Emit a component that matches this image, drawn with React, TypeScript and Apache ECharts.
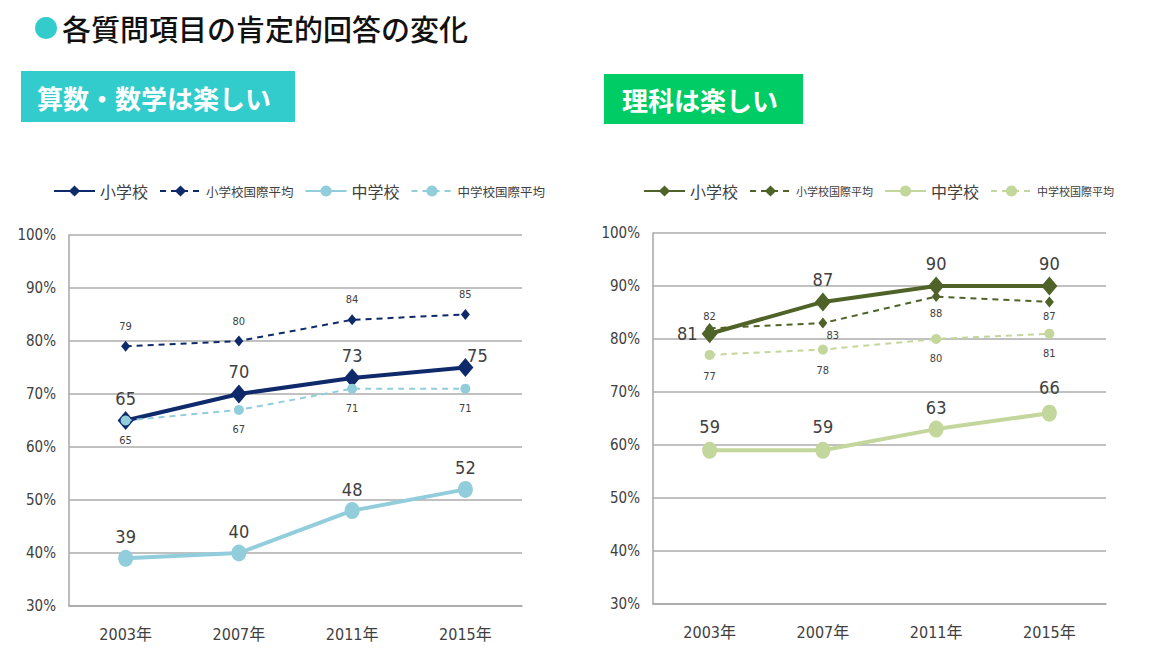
import React, { useEffect, useRef } from "react";
import * as echarts from "echarts";

const years = ["2003年", "2007年", "2011年", "2015年"];
const yTicks = { min: 30, max: 100, interval: 10 };

// 算数・数学は楽しい
const mathElem = [65, 70, 73, 75];
const mathElemIntl = [79, 80, 84, 85];
const mathJunior = [39, 40, 48, 52];
const mathJuniorIntl = [65, 67, 71, 71];

// 理科は楽しい
const sciElem = [81, 87, 90, 90];
const sciElemIntl = [82, 83, 88, 87];
const sciJunior = [59, 59, 63, 66];
const sciJuniorIntl = [77, 78, 80, 81];

const seriesNames = ["小学校", "小学校国際平均", "中学校", "中学校国際平均"];

const NUM_FONT = "'Liberation Sans Narrow', 'DejaVu Sans Condensed', 'Noto Sans CJK JP', sans-serif";
const CJK_FONT = "'Noto Sans CJK JP', sans-serif";
const TXT = "#404040";

type Pal = { dark: string; light: string };

function buildOption(
  pal: Pal,
  data: number[][],
  labelCfg: any[][],
  legendLeft: number,
  legendSmallSize: number,
  gridTop: number,
  graphic: any[]
) {
  const [elem, elemIntl, jun, junIntl] = data;
  const mk = (vals: number[], cfgs: any[]) =>
    vals.map((v, i) => ({ value: v, label: cfgs[i] || {} }));
  const bigLabel = { show: true, position: "top", distance: 4, fontSize: 18, color: TXT, fontFamily: NUM_FONT };
  const smallLabel = { show: true, fontSize: 11, color: TXT, fontFamily: NUM_FONT };
  return {
    animation: false,
    graphic,
    legend: {
      left: legendLeft,
      top: 183,
      padding: 0,
      itemWidth: 41,
      itemHeight: 14,
      itemGap: 11,
      textStyle: { color: TXT, fontFamily: CJK_FONT, fontSize: 16 },
      data: [
        { name: seriesNames[0], textStyle: { fontSize: 16 } },
        { name: seriesNames[1], textStyle: { fontSize: legendSmallSize } },
        { name: seriesNames[2], textStyle: { fontSize: 16 } },
        { name: seriesNames[3], textStyle: { fontSize: legendSmallSize } },
      ],
    },
    grid: { left: 69, top: gridTop, width: 453, height: 371 },
    xAxis: {
      type: "category",
      data: years,
      boundaryGap: true,
      axisTick: { show: false },
      axisLine: { lineStyle: { color: "#A6A6A6", width: 1.5 } },
      axisLabel: { color: TXT, fontSize: 16, fontFamily: NUM_FONT, margin: 20 },
    },
    yAxis: {
      type: "value",
      min: yTicks.min,
      max: yTicks.max,
      interval: yTicks.interval,
      axisLine: { show: true, lineStyle: { color: "#A6A6A6", width: 1.5 } },
      axisTick: { show: false },
      splitLine: { lineStyle: { color: "#ADADAD", width: 1.5 } },
      axisLabel: { color: TXT, fontSize: 15, fontFamily: NUM_FONT, margin: 13, formatter: "{value}%" },
    },
    series: [
      {
        name: seriesNames[0],
        type: "line",
        data: mk(elem, labelCfg[0]),
        symbol: "diamond",
        symbolSize: [16, 19],
        lineStyle: { color: pal.dark, width: 4 },
        itemStyle: { color: pal.dark },
        label: bigLabel,
        z: 3,
      },
      {
        name: seriesNames[1],
        type: "line",
        data: mk(elemIntl, labelCfg[1]),
        symbol: "diamond",
        symbolSize: [9, 11],
        lineStyle: { color: pal.dark, width: 2, type: [6, 5] },
        itemStyle: { color: pal.dark },
        label: { ...smallLabel, position: "top", distance: 9 },
        z: 2,
      },
      {
        name: seriesNames[2],
        type: "line",
        data: mk(jun, labelCfg[2]),
        symbol: "circle",
        symbolSize: [15, 17],
        lineStyle: { color: pal.light, width: 4 },
        itemStyle: { color: pal.light },
        label: bigLabel,
        z: 3,
      },
      {
        name: seriesNames[3],
        type: "line",
        data: mk(junIntl, labelCfg[3]),
        symbol: "circle",
        symbolSize: 10,
        lineStyle: { color: pal.light, width: 2, type: [6, 5] },
        itemStyle: { color: pal.light },
        label: { ...smallLabel, position: "bottom", distance: 9 },
        z: 4,
      },
    ],
  };
}

export default function App() {
  const leftRef = useRef<HTMLDivElement>(null);
  const rightRef = useRef<HTMLDivElement>(null);

  useEffect(() => {
    document.body.style.margin = "0";
    const left = echarts.init(leftRef.current!, undefined, { renderer: "svg" });
    const right = echarts.init(rightRef.current!, undefined, { renderer: "svg" });

    const leftGraphic = [
      { type: "circle", shape: { cx: 46, cy: 28, r: 11 }, style: { fill: "#33CCCC" } },
      {
        type: "text",
        x: 62,
        y: 28,
        style: {
          text: "各質問項目の肯定的回答の変化",
          fill: "#111111",
          fontSize: 29,
          fontWeight: 500,
          fontFamily: CJK_FONT,
          verticalAlign: "middle",
          align: "left",
        },
      },
      { type: "rect", shape: { x: 21, y: 71, width: 274, height: 51 }, style: { fill: "#33CCCC" } },
      {
        type: "text",
        x: 37,
        y: 97,
        style: {
          text: "算数・数学は楽しい",
          fill: "#ffffff",
          fontSize: 26,
          fontWeight: "bold",
          fontFamily: CJK_FONT,
          verticalAlign: "middle",
          align: "left",
        },
      },
    ];
    const rightGraphic = [
      { type: "rect", shape: { x: 20, y: 74, width: 199, height: 50 }, style: { fill: "#00CC66" } },
      {
        type: "text",
        x: 38,
        y: 99,
        style: {
          text: "理科は楽しい",
          fill: "#ffffff",
          fontSize: 26,
          fontWeight: "bold",
          fontFamily: CJK_FONT,
          verticalAlign: "middle",
          align: "left",
        },
      },
    ];

    const leftLabels = [
      [{}, {}, {}, { offset: [12, 10] }],
      [],
      [],
      [],
    ];
    const rightLabels = [
      [{ position: "left", distance: 4 }, {}, {}, {}],
      [{ position: "top", distance: 1 }, { position: "bottom", distance: 1, offset: [10, 0] }, { position: "bottom", distance: 6 }, { position: "bottom", distance: 4 }],
      [{ distance: 6 }, { distance: 6 }, {}, { distance: 8 }],
      [{ distance: 11 }, { distance: 10 }, {}, {}],
    ];

    left.setOption(
      buildOption(
        { dark: "#0E2A6A", light: "#92CDDC" },
        [mathElem, mathElemIntl, mathJunior, mathJuniorIntl],
        leftLabels,
        53,
        12.5,
        235,
        leftGraphic
      ) as any
    );
    right.setOption(
      buildOption(
        { dark: "#4F6228", light: "#C3D69B" },
        [sciElem, sciElemIntl, sciJunior, sciJuniorIntl],
        rightLabels,
        59,
        11,
        233,
        rightGraphic
      ) as any
    );
    return () => {
      left.dispose();
      right.dispose();
    };
  }, []);

  return (
    <div style={{ position: "relative", width: 1168, height: 657, background: "#fff" }}>
      <div ref={leftRef} style={{ position: "absolute", left: 0, top: 0, width: 584, height: 657 }} />
      <div ref={rightRef} style={{ position: "absolute", left: 584, top: 0, width: 584, height: 657 }} />
    </div>
  );
}
